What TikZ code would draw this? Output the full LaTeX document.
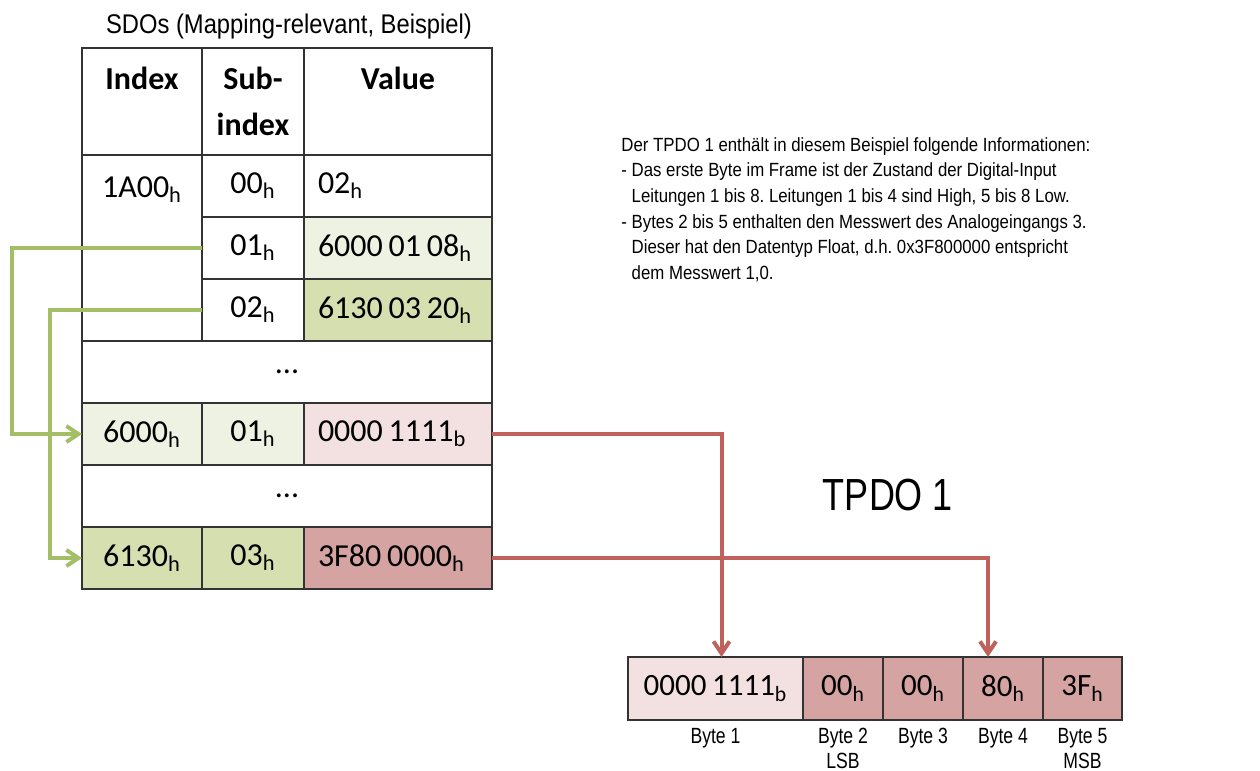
\documentclass[tikz,border=0pt]{standalone}
\usepackage{fontspec}
\setmainfont{Carlito}[WordSpace=0.8]
\newfontfamily\arialn{Liberation Sans}[FakeStretch=0.88]
\newfontfamily\arialc{Liberation Sans}[FakeStretch=0.8]
\usetikzlibrary{arrows.meta}

\definecolor{lgreen}{HTML}{EEF2E2}
\definecolor{mgreen}{HTML}{D5DFAF}
\definecolor{lpink}{HTML}{F3E0E0}
\definecolor{rosy}{HTML}{D4A3A2}
\definecolor{greenline}{HTML}{A3BE67}
\definecolor{redline}{HTML}{C0615C}

\newcommand{\hsub}{\textsubscript{h}}
\newcommand{\bsub}{\textsubscript{b}}

\begin{document}
\begin{tikzpicture}[x=0.5pt, y=-0.5pt,
   every node/.style={font=\fontsize{16}{20}\selectfont},
   cell/.style={draw=black!80, line width=0.9pt, inner sep=0pt, outer sep=0pt, minimum height=31pt},
   icell/.style={cell, minimum width=60pt},
   scell/.style={cell, minimum width=51pt},
   vcell/.style={cell, minimum width=94pt, text width=80pt, inner xsep=7pt, align=left,
                 execute at begin node={\spaceskip=0pt\relax\hbox\bgroup}, execute at end node=\egroup},
   dcell/.style={cell, minimum width=205pt},
   hcell/.style={minimum height=53.5pt, align=center, font=\bfseries\fontsize{16}{23}\selectfont},
   bcell/.style={cell, fill=rosy, minimum width=40pt, minimum height=31.5pt, font=\fontsize{15.5}{18}\selectfont},
   blab/.style={font=\arialc\fontsize{11}{12.5}\selectfont, align=center, inner sep=0pt, label distance=4pt},
   greenarrow/.style={draw=greenline, line width=2pt, -{Straight Barb[length=6pt,width=8pt]}},
   redarrow/.style={draw=redline, line width=2pt, -{Straight Barb[length=6pt,width=8pt]}}]

\useasboundingbox (0,0) rectangle (1260,771);

% SDO table
\node[font=\arialn\fontsize{13.5}{16}\selectfont] (title) at (289,27) {SDOs (Mapping-relevant, Beispiel)};

\node[icell, hcell] (hidx) at (142,101.5) {Index\\~};
\node[scell, hcell] (hsub) at (253,101.5) {Sub-\\index};
\node[cell, hcell, minimum width=94pt] (hval) at (398,101.5) {Value\\~};

\node[icell, minimum height=93pt] (i1A00) at (142,248) {};
\node (t1A00) at (142,190) {1A00\hsub};
\node[scell] (sub0) at (253,186) {00\hsub};
\node[vcell] (val0) at (398,186) {02\hsub};
\node[scell] (sub1) at (253,248) {01\hsub};
\node[vcell, fill=lgreen] (val1) at (398,248) {6000 01 08\hsub};
\node[scell] (sub2) at (253,310) {02\hsub};
\node[vcell, fill=mgreen] (val2) at (398,310) {6130 03 20\hsub};

\node[dcell] (dots1) at (287,372) {...};

\node[icell, fill=lgreen] (i6000) at (142,434) {6000\hsub};
\node[scell, fill=lgreen] (s6000) at (253,434) {01\hsub};
\node[vcell, fill=lpink] (v6000) at (398,434) {0000 1111\bsub};

\node[dcell] (dots2) at (287,496) {...};

\node[icell, fill=mgreen] (i6130) at (142,558) {6130\hsub};
\node[scell, fill=mgreen] (s6130) at (253,558) {03\hsub};
\node[vcell, fill=rosy] (v6130) at (398,558) {3F80 0000\hsub};

% explanation
\node[anchor=north west, inner sep=0pt, align=left, font=\arialn\fontsize{9.55}{12.8}\selectfont\frenchspacing] (info) at (621,137)
  {Der TPDO 1 enthält in diesem Beispiel folgende Informationen:\\
   - Das erste Byte im Frame ist der Zustand der Digital-Input\\
   \phantom{- }Leitungen 1 bis 8. Leitungen 1 bis 4 sind High, 5 bis 8 Low.\\
   - Bytes 2 bis 5 enthalten den Messwert des Analogeingangs 3.\\
   \phantom{- }Dieser hat den Datentyp Float, d.h. 0x3F800000 entspricht\\
   \phantom{- }dem Messwert 1,0.};

% TPDO frame
\node[font=\arialc\fontsize{22.5}{26}\selectfont] (tpdo) at (888,495) {TPDO 1};

\node[bcell, fill=lpink, minimum width=87.5pt, label={[blab]below:Byte 1}] (b1) at (715.5,688.5) {0000 1111\bsub};
\node[bcell, label={[blab]below:Byte 2\\LSB}] (b2) at (843,688.5) {00\hsub};
\node[bcell, label={[blab]below:Byte 3}] (b3) at (923,688.5) {00\hsub};
\node[bcell, label={[blab]below:Byte 4}] (b4) at (1003,688.5) {80\hsub};
\node[bcell, minimum width=39.5pt, label={[blab]below:Byte 5\\MSB}] (b5) at (1082.5,688.5) {3F\hsub};

% mapping
\draw[greenarrow] (sub1.west) -- ++(-190,0) |- (i6000.west);
\draw[greenarrow] (sub2.west) -- ++(-152,0) |- (i6130.west);
\draw[redarrow] (v6000.east) -| ([xshift=3pt]b1.north);
\draw[redarrow] (v6130.east) -| ([xshift=-7.5pt]b4.north);

\end{tikzpicture}
\end{document}
